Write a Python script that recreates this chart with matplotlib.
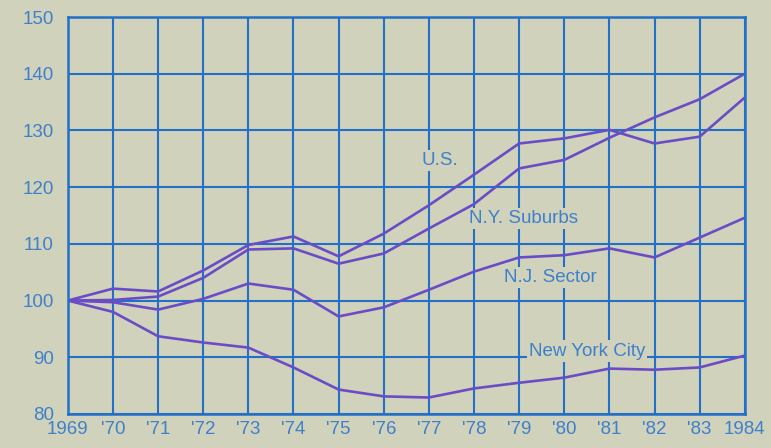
import matplotlib
matplotlib.use("Agg")
import matplotlib.pyplot as plt

years = list(range(1969, 1985))
year_labels = ["1969", "'70", "'71", "'72", "'73", "'74", "'75", "'76", "'77",
               "'78", "'79", "'80", "'81", "'82", "'83", "1984"]

us = [100, 102.1, 101.6, 105.3, 109.8, 111.3, 107.8, 111.8, 116.8,
      122.2, 127.7, 128.6, 130.1, 127.7, 128.9, 135.8]
ny_suburbs = [100, 100.1, 100.7, 104.0, 109.0, 109.2, 106.5, 108.3, 112.7,
              117.0, 123.3, 124.8, 128.7, 132.3, 135.5, 140.0]
nj_sector = [100, 99.7, 98.4, 100.3, 103.0, 101.9, 97.2, 98.8, 101.9,
             105.1, 107.6, 108.0, 109.2, 107.6, 111.1, 114.6]
nyc = [100, 98.0, 93.7, 92.6, 91.7, 88.2, 84.3, 83.1, 82.9,
       84.5, 85.5, 86.4, 88.0, 87.8, 88.2, 90.3]

# label text, x, y
labels = [("U.S.", 1977.25, 124.7),
          ("N.Y. Suburbs", 1979.1, 114.4),
          ("N.J. Sector", 1979.7, 104.0),
          ("New York City", 1980.5, 91.1)]

paper = "#d0d2bc"
grid_blue = "#2270c8"
text_blue = "#3f80cb"
line_purple = "#6a4cc6"

plt.rcParams['font.family'] = ['Liberation Sans', 'DejaVu Sans']

fig = plt.figure(figsize=(7.71, 4.48), dpi=100, facecolor=paper)
ax = fig.add_axes([0.088, 0.076, 0.878, 0.886])
ax.set_facecolor(paper)

for s in [us, ny_suburbs, nj_sector, nyc]:
    ax.plot(years, s, color=line_purple, lw=1.9, zorder=4, solid_joinstyle="round")

for txt, x, y in labels:
    ax.text(x, y, txt, color=text_blue, fontsize=13.5, ha="center", va="center",
            zorder=3, bbox=dict(facecolor=paper, edgecolor="none", pad=1.5))

ax.set_xlim(1969, 1984)
ax.set_ylim(80, 150)
ax.set_xticks(years)
ax.set_xticklabels(year_labels)
ax.set_yticks(range(80, 151, 10))
ax.grid(True, color=grid_blue, lw=1.5, zorder=1)
ax.set_axisbelow(True)
for sp in ax.spines.values():
    sp.set_color(grid_blue)
    sp.set_linewidth(1.8)
    sp.set_zorder(5)
ax.tick_params(length=0, colors=text_blue, labelsize=13.5)
ax.tick_params(axis="y", pad=10)
ax.tick_params(axis="x", pad=5)

fig.savefig("out.png", dpi=100, facecolor=paper)
